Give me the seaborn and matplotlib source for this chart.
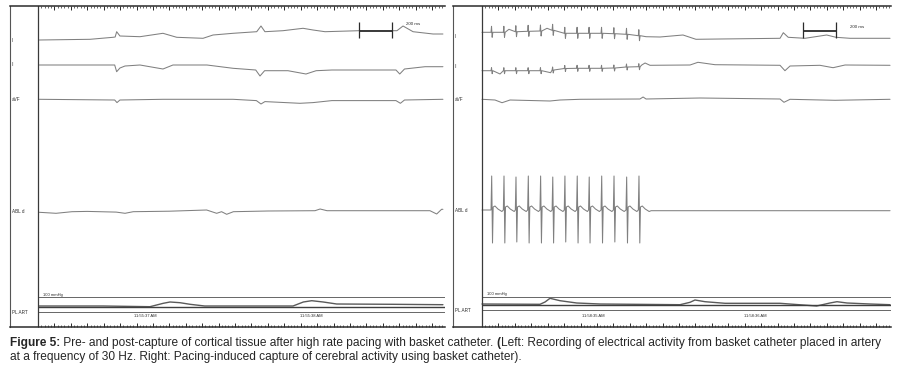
import numpy as np
import pandas as pd
import matplotlib
matplotlib.use("Agg")
import matplotlib.pyplot as plt
import seaborn as sns
from matplotlib import font_manager
from matplotlib.ticker import FixedLocator

# ---------------- data ----------------
# time in ms from the start of each strip, amplitude in screen units (up = +)

# left strip: before capture
L_I_t = [8, 317, 457, 470, 479, 499, 621, 761, 845, 1005, 1066, 1188, 1332, 1358, 1382,
         1492, 1614, 1675, 1748, 1955, 2186, 2223, 2284, 2406, 2466]
L_I_a = [0, 0.7, 2.7, 3, 8.3, 4, 3.3, 6.7, 2.7, 1.7, 5, 6.7, 8.3, 14, 8.3,
         9.3, 11.7, 10, 8.3, 9.3, 9.3, 14, 8.3, 6, 6]

L_II_t = [8, 467, 479, 499, 530, 621, 761, 822, 1029, 1188, 1326, 1352, 1380, 1522,
          1632, 1694, 1790, 2180, 2203, 2232, 2357, 2466]
L_II_a = [0, 0, -6.7, -3, -1, 0, -4, 0, 0, -3.3, -5, -11, -5.7, -5.7,
          -9, -5.7, -5, -5, -9, -4, -1.7, -1.7]

L_aVF_t = [8, 467, 481, 499, 761, 1188, 1330, 1358, 1382, 1595, 1675, 1790, 2180, 2207, 2232, 2466]
L_aVF_a = [0, -0.7, -3.3, -0.7, 0, 0, -1.3, -4.7, -2.3, -4, -3.3, -1.3, -1.3, -4, -0.7, 0]

L_ABL_t = [8, 110, 207, 300, 476, 530, 580, 800, 1027, 1088, 1118, 1149, 1190, 1400,
           1687, 1718, 1760, 2387, 2428, 2458, 2466]
L_ABL_a = [-0.6, -1.6, 0, 0.3, -0.4, -1.6, 0, 0.5, 1.7, -1.6, 0, -2.6, 0, 0.7,
           1, 2.7, 1, 1, -2.3, 2.4, 2.4]

L_ART_t = [8, 396, 682, 763, 804, 865, 926, 1015, 1553, 1616, 1667, 1737, 1819, 2162, 2466]
L_ART_a = [0, 0, -0.7, 2.7, 4, 3.3, 1.7, 0, 0, 4, 5.3, 4, 2, 1.7, 1.3]

# right strip: pacing-induced capture
pace_t = [59, 134, 207, 282, 357, 431, 505, 580, 653, 729, 804, 881, 956]
pace_top = [34, 34, 33, 34, 34, 33, 34, 34, 33, 34, 34, 33, 34]
pace_bottom = [-33, -33, -32, -33, -33, -33, -32, -33, -33, -33, -32, -33, -33]
pace_I_level = [3.7, 3.7, 4.3, 4.7, 5, 5.7, 2.7, 2.7, 2.7, 2.7, 2.3, 1.7, 0.3]
pace_II_level = [-3.7, -3.7, -3.7, -3.7, -3.7, -3, -1.5, -1.3, -1.3, -1.3, -1, 0, 0.3]

R_I_t = [0, 164, 396, 975, 999, 1084, 1224, 1303, 1449, 1815, 1835, 1865, 1967, 2099, 2156, 2241, 2485]
R_I_a = [3.7, 6.7, 7.7, 0, -0.7, -1, 1, -3.3, -3, -2.3, 3.3, -1.3, -2.3, 1, -1.3, -2.3, -2.3]

R_II_t = [0, 110, 418, 973, 993, 1023, 1267, 1315, 1419, 1815, 1845, 1876, 2058, 2138, 2211, 2485]
R_II_a = [-3.7, -7, -5.7, 2, 4, 1.7, 2, 4.7, 2.3, 1.7, -3.7, 1, 1.7, -0.7, 2, 1.7]

R_aVF_t = [0, 79, 122, 171, 414, 475, 597, 962, 981, 999, 1328, 1815, 1839, 1876, 2150, 2485]
R_aVF_a = [0, -0.7, -3.4, -0.7, -1.7, -0.7, 0, 0.3, 2.3, 0.3, 1.3, 0.3, -3, 0, -1, 0]

R_ABL_t = [0, 1030, 2485]
R_ABL_a = [0, -0.7, -0.7]

R_ART_t = [0, 353, 384, 414, 475, 577, 719, 1206, 1267, 1297, 1358, 1480, 1815, 2038, 2119,
           2162, 2223, 2363, 2485]
R_ART_a = [0, -0.3, 2, 5.7, 3.3, 1, 0, -0.7, 1.7, 4, 2.3, 0.7, 0.7, -2, 1, 2.3, 1, 0, -0.7]

channels = ["I", "II", "aVF", "ABL d", "PL ART"]
time_labels_left = ["11:55:37 AM", "11:55:38 AM"]
time_labels_right = ["11:58:35 AM", "11:58:36 AM"]
time_pos_left = [652, 1667]
time_pos_right = [678, 1663]
scale_ms = 200

caption_1 = [("Figure 5:", "bold"),
             (" Pre- and post-capture of cortical tissue after high rate pacing with basket catheter. ", "normal"),
             ("(", "bold"),
             ("Left: Recording of electrical activity from basket catheter placed in artery", "normal")]
caption_2 = [("at a frequency of 30 Hz. Right: Pacing-induced capture of cerebral activity using basket catheter).",
              "normal")]


# ---------------- helpers ----------------
def add_spikes(t, a, times, shape_t, shape_a):
    """merge spike vertices (shape relative to each spike) into a base polyline"""
    pts = list(zip(t, a))
    for i, s in enumerate(times):
        for dt, da in zip(shape_t, shape_a[i]):
            pts.append((s + dt, da))
    pts.sort(key=lambda p: p[0])
    return [p[0] for p in pts], [p[1] for p in pts]


ab_t, ab_a = add_spikes(R_ABL_t, R_ABL_a, pace_t, [-4, 0, 5, 9, 20, 38, 62],
                        [[0, tp, bt, 3, 4, 1, -1.5] for tp, bt in zip(pace_top, pace_bottom)])
ri_t, ri_a = add_spikes(R_I_t, R_I_a, pace_t, [-4, -1, 3, 7],
                        [[lv, lv + 6, lv - 5, lv] for lv in pace_I_level])
rii_t, rii_a = add_spikes(R_II_t, R_II_a, pace_t, [-4, -1, 3, 7],
                          [[lv, lv + 3, lv - 3, lv] for lv in pace_II_level])

# ---------------- layout ----------------
W, H = 900, 376
MS_PX = 6.09
TRACE = "#808080"
DARK = "#2b2b2b"

sns.set_style("white")
avail = {f.name for f in font_manager.fontManager.ttflist}
cap_font = "Liberation Sans Narrow" if "Liberation Sans Narrow" in avail else "Liberation Sans"
plt.rcParams["font.family"] = ["Liberation Sans", "DejaVu Sans"]

fig = plt.figure(figsize=(W / 100, H / 100), dpi=100)


def panel(x0, x_inner, x1, base_y, traces, tlabels, tpos, bar_y, bar_lbl_y, mm_y, low_y, flat_y):
    ax = fig.add_axes([x0 / W, 1 - 327 / H, (x1 - x0) / W, 321 / H])
    ax.set_xlim(-(x_inner - x0) * MS_PX, (x1 - x_inner) * MS_PX)
    ax.set_ylim(327, 6)
    xmax = (x1 - x_inner) * MS_PX
    for name, (t, a) in traces.items():
        df = pd.DataFrame({"t": t, "y": [base_y[name] - v for v in a]})
        sns.lineplot(data=df, x="t", y="y", ax=ax, sort=False, estimator=None,
                     color=TRACE if name != "PL ART" else "#5a5a5a",
                     linewidth=0.75 if name != "PL ART" else 1.0)
    # reference lines of the pressure channel
    ax.hlines([mm_y, low_y], 0, xmax, color="#666666", lw=0.7)
    ax.hlines(flat_y, 0, xmax, color="#3f3f3f", lw=1.0)
    ax.text(30, mm_y - 0.5, "100 mmHg", fontsize=3, color=DARK, va="bottom")
    # scale bar
    b0 = 1955
    ax.hlines(bar_y, b0, b0 + scale_ms, color="#3a3a3a", lw=1.4)
    ax.vlines([b0, b0 + scale_ms], bar_y - 9, bar_y + 7, color=DARK, lw=0.9)
    ax.text(b0 + 330, bar_lbl_y, f"{scale_ms} ms", fontsize=3.2, color=DARK, ha="center", va="center")
    # channel labels in the left column
    lx = -(x_inner - x0 - 2) * MS_PX
    for name in channels:
        ax.text(lx, base_y[name] + (0 if name != "PL ART" else 6), name, fontsize=3.3,
                color=DARK, va="center", ha="left")
    for lbl, p in zip(tlabels, tpos):
        ax.text(p, 316, lbl, fontsize=3, color=DARK, ha="center", va="center")
    ax.axvline(0, color="#3a3a3a", lw=0.9)
    # time ruler on top and bottom edges
    ax.xaxis.set_major_locator(FixedLocator(np.arange(0, xmax, 100)))
    ax.xaxis.set_minor_locator(FixedLocator(np.arange(0, xmax, 20)))
    ax.tick_params(axis="x", which="major", direction="in", top=True, bottom=True,
                   length=3, width=0.7, color=DARK, labelbottom=False)
    ax.tick_params(axis="x", which="minor", direction="in", top=True, bottom=True,
                   length=1.4, width=0.5, color=DARK)
    ax.set_yticks([])
    ax.set_xlabel("")
    ax.set_ylabel("")
    for s in ["top", "bottom"]:
        ax.spines[s].set_color(DARK)
        ax.spines[s].set_linewidth(1.1)
    ax.spines["left"].set_color("#555555")
    ax.spines["left"].set_linewidth(0.8)
    ax.spines["right"].set_visible(False)
    return ax


panel(10, 38, 445,
      {"I": 40, "II": 65, "aVF": 99.3, "ABL d": 211.7, "PL ART": 306},
      {"I": (L_I_t, L_I_a), "II": (L_II_t, L_II_a), "aVF": (L_aVF_t, L_aVF_a),
       "ABL d": (L_ABL_t, L_ABL_a), "PL ART": (L_ART_t, L_ART_a)},
      time_labels_left, time_pos_left, 30.7, 24.3, 297.3, 312.3, 306.7)

panel(453, 482, 891,
      {"I": 36, "II": 67, "aVF": 99.3, "ABL d": 210, "PL ART": 304},
      {"I": (ri_t, ri_a), "II": (rii_t, rii_a), "aVF": (R_aVF_t, R_aVF_a),
       "ABL d": (ab_t, ab_a), "PL ART": (R_ART_t, R_ART_a)},
      time_labels_right, time_pos_right, 31, 27, 296.7, 310, 305)

# ---------------- caption ----------------
renderer = fig.canvas.get_renderer()


def write_line(segs, y_px, size):
    x = 10
    for s, w in segs:
        t = fig.text(x / W, 1 - y_px / H, s, fontsize=size, fontweight=w,
                     family=[cap_font, "DejaVu Sans"], va="center", ha="left")
        x += t.get_window_extent(renderer).width
    return x - 10


probe = write_line(caption_1, -100, 10)
for t in list(fig.texts):
    t.remove()
cap_size = 10 * 877 / probe
write_line(caption_1, 343, cap_size)
write_line(caption_2, 357, cap_size)

fig.savefig("out.png", dpi=100)
